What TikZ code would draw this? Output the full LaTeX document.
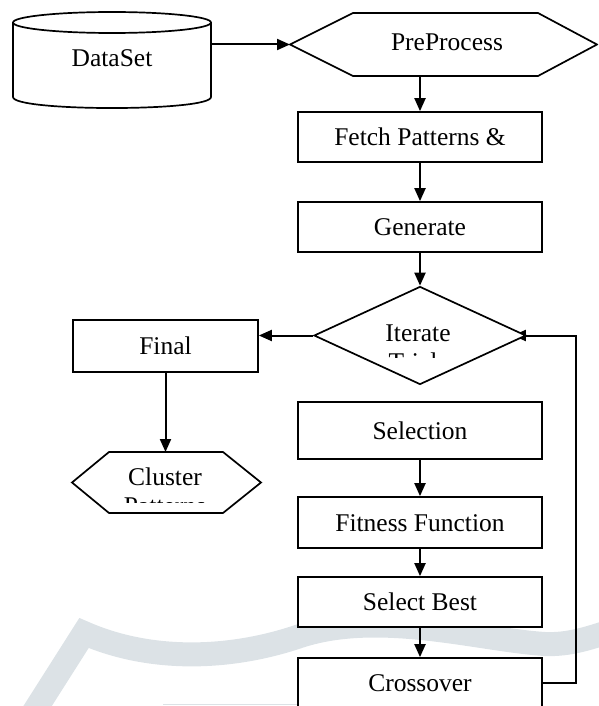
\documentclass[tikz,border=0pt]{standalone}
\usepackage{fontspec}
\setmainfont{Liberation Serif}
\usetikzlibrary{arrows.meta,shapes.geometric,backgrounds,calc}
\definecolor{wm}{RGB}{220,226,230}
\begin{document}
\begin{tikzpicture}[x=1pt,y=-1pt,
  txt/.style={font=\fontsize{25.5}{29}\selectfont, inner sep=0pt, text height=17pt, text depth=0pt},
  box/.style={txt, draw, line width=1.7pt, fill=white, minimum width=244pt, minimum height=50pt},
  arr/.style={line width=2pt, -{Triangle[length=13pt,width=11pt]}},
  ln/.style={line width=2pt},
  shp/.style={line width=1.7pt, fill=white, line join=miter}
]
\clip (0,0) rectangle (598,706);

% DataSet cylinder
\draw[line width=1.7pt] (112,22.5) ellipse[x radius=99, y radius=10.5];
\draw[line width=1.7pt] (13,22.5) -- (13,97) .. controls (13,111.7) and (211,111.7) .. (211,97) -- (211,22.5);
\node[txt, minimum width=198pt, minimum height=96pt] (data) at (112,58) {DataSet};

% PreProcess hexagon
\coordinate (preW) at (290,44.5);
\coordinate (preS) at (445,76);
\draw[shp] (preW) -- (353,13) -- (538,13) -- (597,44.5) -- (538,76) -- (353,76) -- cycle;
\node[txt] (pre) at (447,42) {PreProcess};
\draw[arr] (data.east |- preW) -- (preW);

% main column
\node[box] (fetch) at (420,137) {Fetch Patterns \&};
\node[box] (gen) at (420,227) {Generate};
\node[draw, diamond, shp, minimum width=212pt, minimum height=98pt, inner sep=0pt] (it) at (420,335.5) {};
\node[txt] (itT) at (418,333) {Iterate};
\begin{scope}
  \clip (340,345) rectangle (500,357.5);
  \node[txt] (itT2) at (418,362) {Trials};
\end{scope}

\node[box, minimum height=57pt] (sel) at (420,430.5) {Selection};
\node[box, minimum height=51pt] (fit) at (420,522.5) {Fitness Function};
\node[box] (best) at (420,602) {Select Best};
\node[box] (cross) at (420,683) {Crossover};

% left branch
\node[box, minimum width=185pt, minimum height=52pt] (final) at (165.5,346) {Final};
\coordinate (clN) at (165,452);
\draw[shp] (72,482.5) -- (109,452) -- (223,452) -- (261,482.5) -- (223,513) -- (109,513) -- cycle;
\node[txt] (clT) at (165,477) {Cluster};
\begin{scope}
  \clip (80,495) rectangle (250,502);
  \node[txt] (clT2) at (165,506) {Patterns};
\end{scope}

% connectors
\draw[arr] (fetch.north |- preS) -- (fetch.north);
\draw[arr] (fetch.south) -- (gen.north);
\draw[arr] (gen.south) -- (it.north);
\draw[arr] (it.west) -- (it.west -| final.east);
\draw[arr] (final.south) -- (final.south |- clN);
\draw[arr] (sel.south) -- (fit.north);
\draw[arr] (fit.south) -- (best.north);
\draw[arr] (best.south) -- (cross.north);

\begin{scope}[on background layer]
  \draw[wm, line width=24pt, line join=miter]
    (30,718) -- (84,633) .. controls (150,662) and (230,660) .. (300,636)
    .. controls (380,610) and (480,640) .. (545,644)
    .. controls (570,645) and (590,638) .. (620,628);
  \draw[wm, line width=1.5pt] (163,704.5) -- (297,704.5);
  \coordinate (rr) at (576,0);
  \draw[ln] (cross.east) -- (cross.east -| rr) -- (it.east -| rr) -- (it.east);
  \draw[arr] (it.east) -- ++(-14,0);
\end{scope}
\end{tikzpicture}
\end{document}
